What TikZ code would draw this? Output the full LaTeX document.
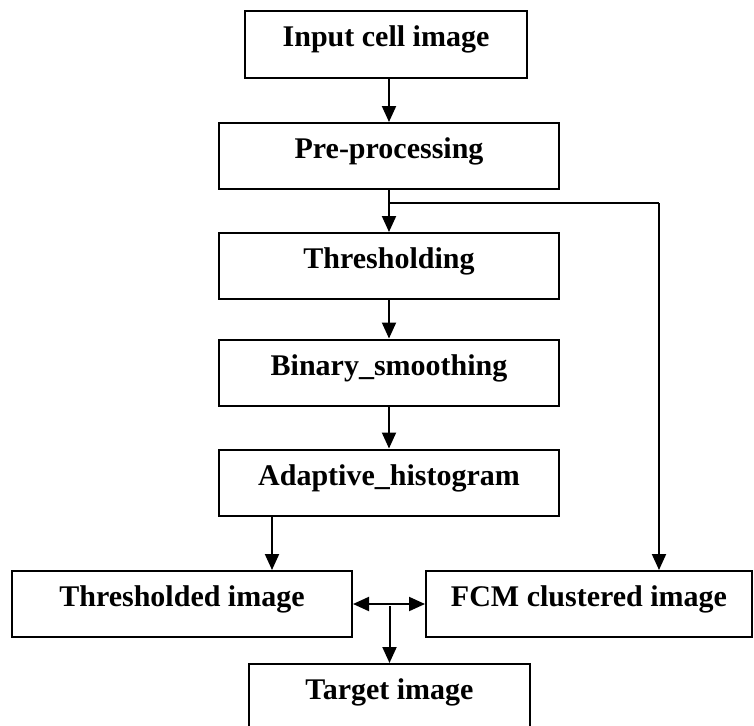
\documentclass[tikz,border=0pt]{standalone}
\usepackage{fontspec}
\setmainfont{Liberation Serif}
\usetikzlibrary{arrows.meta}

\tikzset{
  block/.style={draw, line width=2pt, minimum height=66pt, inner sep=0pt,
    text height=0.8em, text depth=0.3em,
    font=\fontsize{30}{36}\selectfont\bfseries},
  flow/.style={line width=2pt, -{Triangle[width=14pt,length=16pt]}},
  twoway/.style={line width=2pt, {Triangle[width=14pt,length=16pt]}-{Triangle[width=14pt,length=16pt]}},
}

\begin{document}
\begin{tikzpicture}[x=1pt, y=-1pt]
\useasboundingbox (0,0) rectangle (754,725);

% main chain
\node[block, minimum width=282pt] (in)  at (386,44.5)  {Input cell image};
\node[block, minimum width=340pt] (pre) at (389,156)   {Pre-processing};
\node[block, minimum width=340pt] (thr) at (389,266)   {Thresholding};
\node[block, minimum width=340pt] (bin) at (389,372.5) {Binary\_smoothing};
\node[block, minimum width=340pt] (ada) at (389,482.5) {Adaptive\_histogram};

% outputs
\node[block, minimum width=340pt] (thrimg) at (182,604)  {Thresholded image};
\node[block, minimum width=326pt] (fcm)    at (589,604)  {FCM clustered image};
\node[block, minimum width=281pt] (tgt)    at (389.5,697) {Target image};

\coordinate (split) at (389,203);
\coordinate (turn)  at (659,203);
\coordinate (drop)  at (272,0);
\coordinate (join)  at (tgt.north |- thrimg.east);

\draw[flow] (pre.north |- in.south) -- (pre.north);
\draw[flow] (pre.south) -- (thr.north);
\draw[flow] (thr.south) -- (bin.north);
\draw[flow] (bin.south) -- (ada.north);

% branch to the clustering
\draw[line width=2pt] (split) -- (turn);
\draw[flow] (turn) -- (turn |- fcm.north);

\draw[flow] (drop |- ada.south) -- (drop |- thrimg.north);
\draw[twoway] (thrimg.east) -- (fcm.west);
\draw[flow] ([yshift=-2pt]join) -- (tgt.north);

\end{tikzpicture}
\end{document}
